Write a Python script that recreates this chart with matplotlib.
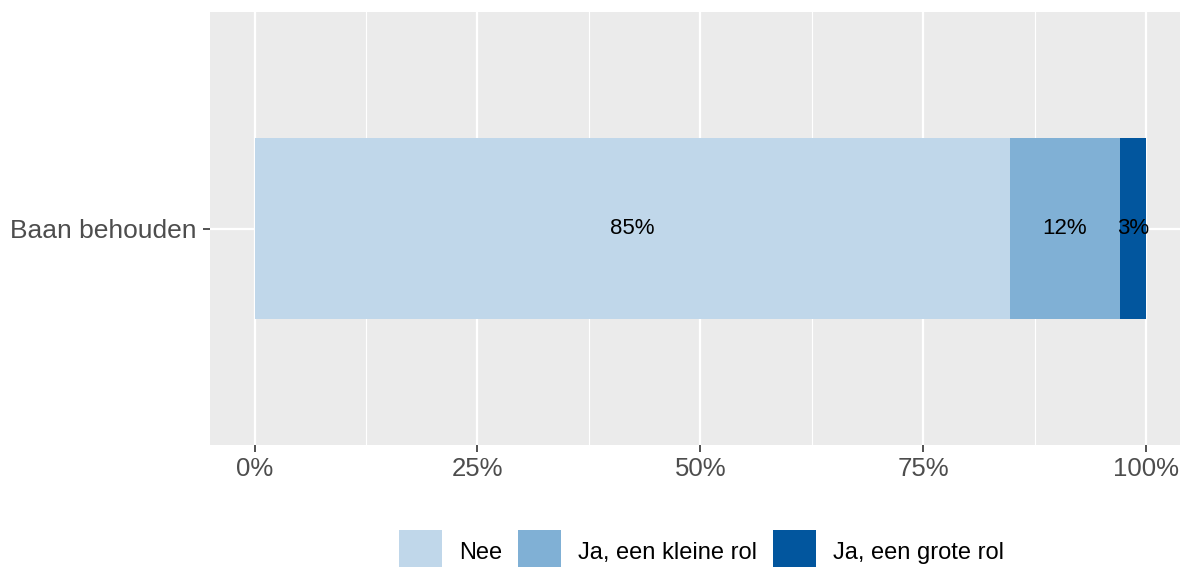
import matplotlib
matplotlib.use("Agg")
import matplotlib.pyplot as plt
from matplotlib.patches import Patch

plt.rcParams['font.family'] = ['Liberation Sans', 'DejaVu Sans']

categories = ["Baan behouden"]
series_names = ["Nee", "Ja, een kleine rol", "Ja, een grote rol"]
series_values = [84.7, 12.4, 2.9]
series_colors = ["#c0d7ea", "#80b0d5", "#02569e"]
x_ticks = [0, 25, 50, 75, 100]
x_tick_labels = ["0%", "25%", "50%", "75%", "100%"]

fig = plt.figure(figsize=(11.8, 5.67), dpi=100)
ax = fig.add_axes([210 / 1180, 1 - 445 / 567, 980.5 / 1180, 433 / 567])
ax.set_facecolor("#ebebeb")

left = 0.0
for name, val, col in zip(series_names, series_values, series_colors):
    ax.barh(0, val, left=left, height=0.5, color=col, zorder=3)
    ax.text(left + val / 2, 0, f"{val:.0f}%", ha="center", va="center",
            fontsize=16, color="black", zorder=4)
    left += val

ax.set_xlim(-5, 105)
ax.set_ylim(-0.6, 0.6)
ax.set_yticks([0])
ax.set_yticklabels(categories)
ax.set_xticks(x_ticks)
ax.set_xticklabels(x_tick_labels)
ax.set_xticks([12.5, 37.5, 62.5, 87.5], minor=True)

ax.grid(which="major", color="white", linewidth=1.6, zorder=1)
ax.grid(which="minor", axis="x", color="white", linewidth=0.8, zorder=1)
ax.set_axisbelow(True)
for s in ax.spines.values():
    s.set_visible(False)

ax.tick_params(axis="x", which="major", length=5, width=1.2, color="#333333",
               labelcolor="#4d4d4d", labelsize=18.5, pad=4)
ax.tick_params(axis="y", which="major", length=5, width=1.2, color="#333333",
               labelcolor="#4d4d4d", labelsize=19, pad=5)
ax.tick_params(axis="both", which="minor", length=0)

handles = [Patch(facecolor=c, edgecolor="none", label=n)
           for n, c in zip(series_names, series_colors)]
fig.legend(handles=handles, loc="center", bbox_to_anchor=(701.5 / 1180, 1 - 552 / 567),
           ncol=3, frameon=False, fontsize=17, handlelength=1.82, handleheight=2.5,
           handletextpad=0.72, columnspacing=0.68, borderpad=0, borderaxespad=0)

fig.savefig("out.png", dpi=100)
